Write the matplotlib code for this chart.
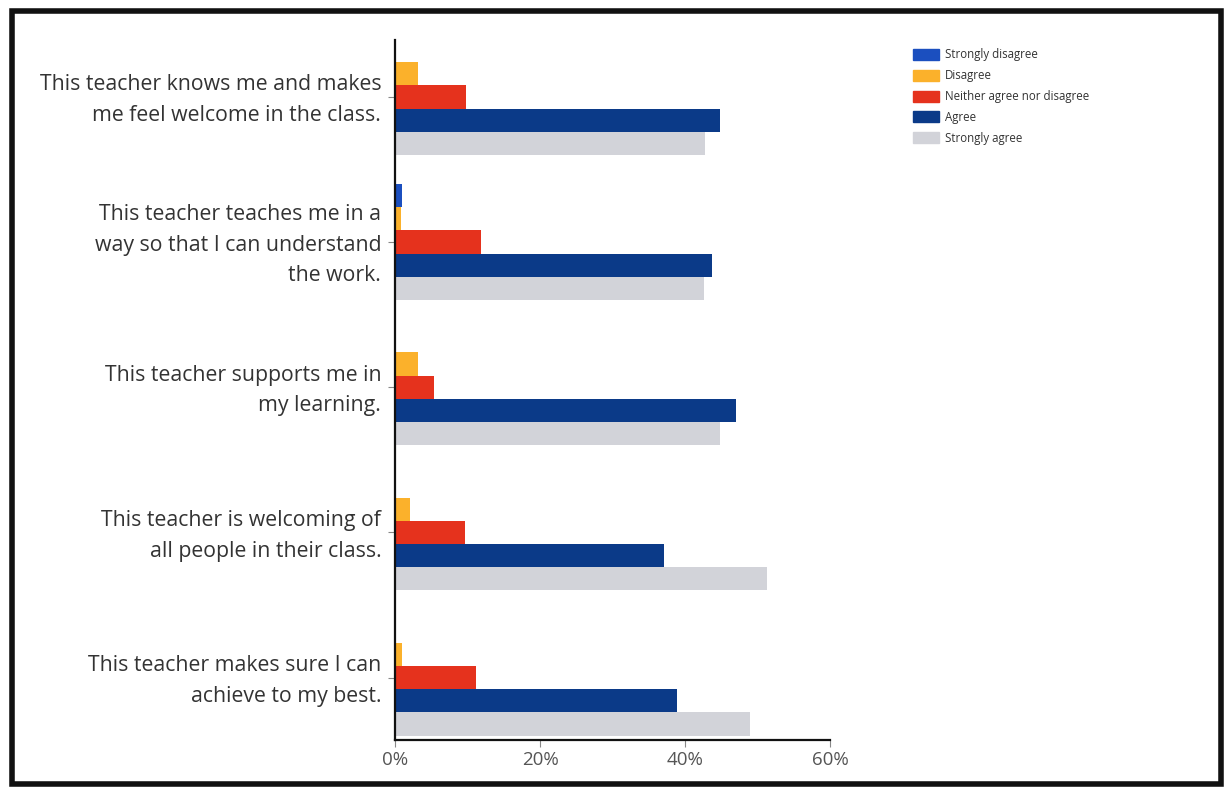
import matplotlib.pyplot as plt
import matplotlib.patches as mpatches
import matplotlib.transforms as mtransforms
import numpy as np

plt.rcParams['font.family'] = ['Open Sans', 'DejaVu Sans']

# survey statements, top to bottom
statements = [
    'This teacher knows me and makes\nme feel welcome in the class.',
    'This teacher teaches me in a\nway so that I can understand\nthe work.',
    'This teacher supports me in\nmy learning.',
    'This teacher is welcoming of\nall people in their class.',
    'This teacher makes sure I can\nachieve to my best.',
]

responses = ['Strongly disagree', 'Disagree', 'Neither agree nor disagree',
             'Agree', 'Strongly agree']

# share of students per response (%), one list per response
strongly_disagree = [0.0, 1.0, 0.0, 0.0, 0.0]
disagree = [3.2, 0.8, 3.2, 2.1, 1.0]
neither = [9.8, 11.9, 5.4, 9.7, 11.2]
agree = [44.8, 43.7, 47.0, 37.1, 38.9]
strongly_agree = [42.8, 42.6, 44.8, 51.3, 49.0]

series = [strongly_disagree, disagree, neither, agree, strongly_agree]
colors = ['#1b4fbf', '#fbb12b', '#e5321d', '#0b3a88', '#d2d3d9']

fig = plt.figure(figsize=(12.28, 7.90), dpi=100)
ax = fig.add_axes([0.3217, 0.0633, 0.6759 - 0.3217, 0.949 - 0.0633])

y = np.arange(len(statements))
h = 0.16
for k, (vals, col) in enumerate(zip(series, colors)):
    ax.barh(y + (k - 2) * h, np.array(vals) / 100, height=h, color=col,
            label=responses[k])

ax.set_xlim(0, 0.6)
ax.set_ylim(4.43, -0.39)
ax.set_xticks([0, 0.2, 0.4, 0.6])
ax.set_xticklabels(['0%', '20%', '40%', '60%'], fontsize=13.5, color='#555555')
ax.set_yticks(y)
ax.set_yticklabels(statements, fontsize=15.3, color='#333333', linespacing=1.6)
ax.tick_params(axis='y', length=5, color='#888888', pad=5)
ax.tick_params(axis='x', length=5, color='#888888', pad=3)

# nudge the statement labels up a little so they sit centred on each group
shift = mtransforms.ScaledTranslation(0, 4 / 100, fig.dpi_scale_trans)
for lab in ax.get_yticklabels():
    lab.set_transform(lab.get_transform() + shift)

for side in ['top', 'right']:
    ax.spines[side].set_visible(False)
ax.spines['left'].set_linewidth(1.6)
ax.spines['left'].set_color('#111111')
ax.spines['bottom'].set_linewidth(1.6)
ax.spines['bottom'].set_color('#111111')

handles = [mpatches.Patch(color=c, label=r) for c, r in zip(colors, responses)]
fig.legend(handles=handles, loc='upper left', bbox_to_anchor=(0.735, 0.952),
           frameon=False, fontsize=8.3, labelspacing=0.68, handlelength=2.3,
           handleheight=1.1, handletextpad=0.5, labelcolor='#333333')

# page frame
fig.patches.append(mpatches.Rectangle((0.010, 0.008), 0.984, 0.978,
                                      transform=fig.transFigure, fill=False,
                                      edgecolor='#111111', linewidth=4))

fig.savefig('out.png', dpi=100)
